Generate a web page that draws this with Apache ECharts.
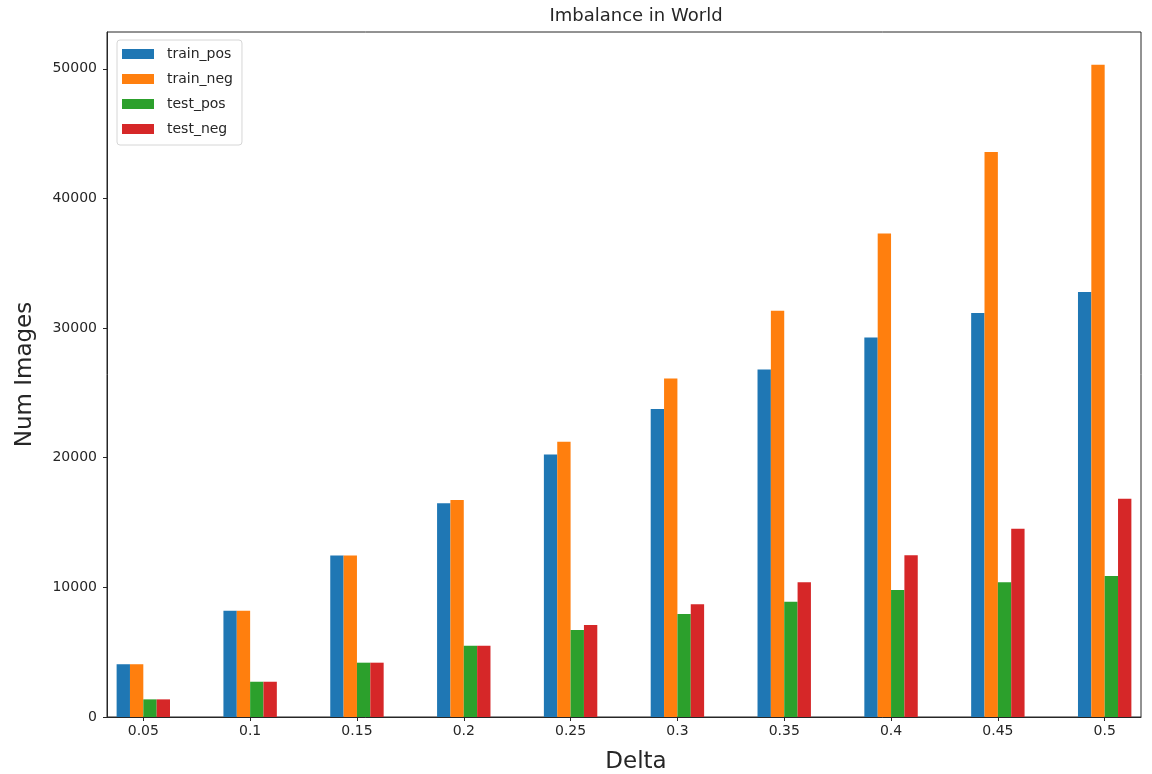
<!DOCTYPE html>
<html>
<head>
<meta charset="utf-8">
<script src="https://cdn.jsdelivr.net/npm/echarts@6/dist/echarts.min.js"></script>
<style>
  html, body { margin: 0; padding: 0; background: #fff; }
  #chart { width: 1152px; height: 774px; }
</style>
</head>
<body>
<div id="chart"></div>
<script>
// Delta thresholds (x categories)
const deltas = ['0.05', '0.1', '0.15', '0.2', '0.25', '0.3', '0.35', '0.4', '0.45', '0.5'];

// Image counts per split
const trainPos = [4070, 8200, 12450, 16480, 20250, 23750, 26810, 29280, 31170, 32790];
const trainNeg = [4070, 8200, 12450, 16730, 21230, 26110, 31330, 37290, 43590, 50320];
const testPos  = [1360, 2720, 4190, 5500, 6710, 7940, 8890, 9790, 10390, 10870];
const testNeg  = [1360, 2720, 4190, 5500, 7090, 8690, 10390, 12470, 14520, 16830];

const yTicks = [0, 10000, 20000, 30000, 40000, 50000];

const seriesDefs = [
  { name: 'train_pos', values: trainPos, color: '#1f77b4' },
  { name: 'train_neg', values: trainNeg, color: '#ff7f0e' },
  { name: 'test_pos',  values: testPos,  color: '#2ca02c' },
  { name: 'test_neg',  values: testNeg,  color: '#d62728' }
];

const FONT = 'DejaVu Sans';
const INK = '#262626';

const gridLeft = 107, gridTop = 32, gridWidth = 1034, gridHeight = 685;
// x runs over category index; pad on each side like a grouped bar plot
const xMin = -0.34, xMax = 9.34;
const catPx = gridWidth / (xMax - xMin);
const barPx = catPx * 0.5 / seriesDefs.length;

const chart = echarts.init(document.getElementById('chart'), null, { renderer: 'canvas' });

chart.setOption({
  animation: false,
  backgroundColor: '#ffffff',
  title: {
    text: 'Imbalance in World',
    left: 636,
    textAlign: 'center',
    top: 7,
    padding: 0,
    textStyle: { fontFamily: FONT, fontSize: 18, fontWeight: 'normal', color: INK }
  },
  legend: {
    orient: 'vertical',
    left: 117,
    top: 40,
    itemWidth: 32,
    itemHeight: 10,
    itemGap: 9,
    padding: [6, 9, 8, 5],
    backgroundColor: '#ffffff',
    borderColor: '#d6d6d6',
    borderWidth: 1,
    borderRadius: 3,
    icon: 'rect',
    textStyle: { fontFamily: FONT, fontSize: 14, color: INK, lineHeight: 16, padding: [0, 0, 0, 8] },
    data: seriesDefs.map(s => s.name)
  },
  grid: {
    left: gridLeft, top: gridTop, width: gridWidth, height: gridHeight,
    containLabel: false, outerBoundsMode: 'none',
    show: true, borderColor: INK, borderWidth: 1, backgroundColor: 'transparent'
  },
  xAxis: {
    type: 'value',
    min: xMin,
    max: xMax,
    name: 'Delta',
    nameLocation: 'middle',
    nameGap: 34,
    nameTextStyle: { fontFamily: FONT, fontSize: 23, color: INK, padding: [0, 0, 0, 24] },
    axisLine: { show: true, onZero: false, lineStyle: { color: INK, width: 1 } },
    axisTick: { show: true, length: 4, inside: false, lineStyle: { color: INK }, customValues: deltas.map((d, i) => i) },
    axisLabel: {
      show: true, margin: 7, fontFamily: FONT, fontSize: 14, color: INK,
      customValues: deltas.map((d, i) => i),
      formatter: v => deltas[Math.round(v)]
    },
    splitLine: { show: false }
  },
  yAxis: {
    type: 'value',
    min: 0,
    max: 52840,
    name: 'Num Images',
    nameLocation: 'middle',
    nameGap: 70,
    nameTextStyle: { fontFamily: FONT, fontSize: 23, color: INK },
    axisLine: { show: true, onZero: false, lineStyle: { color: INK, width: 1 } },
    axisTick: { show: true, length: 4, inside: false, lineStyle: { color: INK }, customValues: yTicks },
    axisLabel: {
      show: true, margin: 10, fontFamily: FONT, fontSize: 14, color: INK,
      customValues: yTicks,
      formatter: v => String(v)
    },
    splitLine: { show: false }
  },
  series: seriesDefs.map(s => ({
    name: s.name,
    type: 'bar',
    barWidth: barPx,
    barGap: '0%',
    itemStyle: { color: s.color },
    data: s.values.map((v, i) => [i, v])
  }))
});
</script>
</body>
</html>
